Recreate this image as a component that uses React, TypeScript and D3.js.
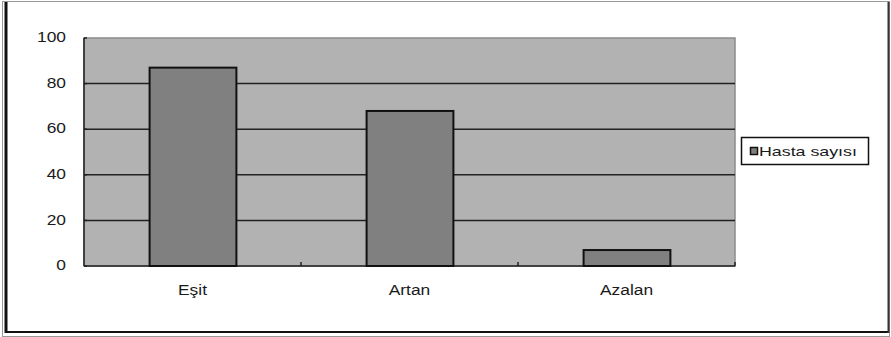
import React from "react";
import * as d3 from "d3";

const categories = ["Eşit", "Artan", "Azalan"];
const values = [87, 68, 7];
const yTicks = [0, 20, 40, 60, 80, 100];
const seriesName = "Hasta sayısı";

function SText(props: { x: number; y: number; sx: number; anchor: string; size: number; children: any; dy?: string }) {
  const { x, y, sx, anchor, size, children, dy } = props;
  return (
    <g transform={`translate(${x},${y}) scale(${sx},1)`}>
      <text x={0} y={0} dy={dy} textAnchor={anchor} fontFamily="'Liberation Sans', Arial, sans-serif" fontSize={size} fill="#1a1a1a">{children}</text>
    </g>
  );
}

export default function App() {
  const W = 891, H = 337;
  const left = 84, right = 735, top = 38, bottom = 266;
  const x = d3.scaleBand<string>().domain(categories).range([left, right]).paddingInner(0).paddingOuter(0);
  const y = d3.scaleLinear().domain([0, 100]).range([bottom, top]);
  const bw = x.bandwidth();
  const barW = bw * 0.4;
  return (
    <svg width={W} height={H} style={{ position: "absolute", left: 0, top: 0, display: "block" }}>
      <rect x={0} y={0} width={W} height={H} fill="#fff" />
      {/* outer frame */}
      <rect x={2.5} y={1.5} width={W - 4} height={H - 2} fill="none" stroke="#999" strokeWidth={1} />
      <line x1={6} y1={2} x2={6} y2={333} stroke="#111" strokeWidth={3} />
      <line x1={5} y1={332} x2={889} y2={332} stroke="#111" strokeWidth={2} />
      <line x1={888.5} y1={2} x2={888.5} y2={333} stroke="#333" strokeWidth={2} />
      {/* plot area */}
      <rect x={left} y={top} width={right - left} height={bottom - top} fill="#b2b2b2" stroke="#8c8c8c" strokeWidth={1.5} />
      {yTicks.filter(t => t > 0 && t < 100).map(t => (
        <line key={t} x1={left} x2={right} y1={y(t)} y2={y(t)} stroke="#222" strokeWidth={1.5} />
      ))}
      {/* axes */}
      <line x1={left} y1={top} x2={left} y2={bottom} stroke="#222" strokeWidth={1.5} />
      <line x1={left} y1={bottom} x2={right} y2={bottom} stroke="#222" strokeWidth={1.5} />
      {yTicks.map(t => (
        <line key={"yt" + t} x1={left} x2={left + 3} y1={y(t)} y2={y(t)} stroke="#222" strokeWidth={1.5} />
      ))}
      {categories.map(c => (
        <line key={"xt" + c} x1={(x(c) as number) + bw} x2={(x(c) as number) + bw} y1={bottom} y2={bottom - 4} stroke="#222" strokeWidth={1.5} />
      ))}
      {/* bars */}
      {categories.map((c, i) => {
        const cx = (x(c) as number) + bw / 2;
        return (
          <rect key={c} x={cx - barW / 2 + 0.5} y={y(values[i])} width={barW} height={bottom - y(values[i])}
            fill="#808080" stroke="#111" strokeWidth={2} />
        );
      })}
      {/* y labels */}
      {yTicks.map(t => (
        <SText key={"yl" + t} x={66} y={y(t) - 1} dy="0.36em" anchor="end" size={14.5} sx={1.2}>{t}</SText>
      ))}
      {/* x labels */}
      {categories.map(c => (
        <SText key={"xl" + c} x={(x(c) as number) + bw / 2} y={294.5} anchor="middle" size={14.5} sx={1.2}>{c}</SText>
      ))}
      {/* legend */}
      <rect x={741.5} y={137.5} width={127} height={27} fill="#fff" stroke="#111" strokeWidth={1.5} />
      <rect x={750.5} y={147.5} width={7} height={7} fill="#808080" stroke="#111" strokeWidth={1.5} />
      <SText x={759} y={151} dy="0.36em" anchor="start" size={13} sx={1.37}>{seriesName}</SText>
    </svg>
  );
}
